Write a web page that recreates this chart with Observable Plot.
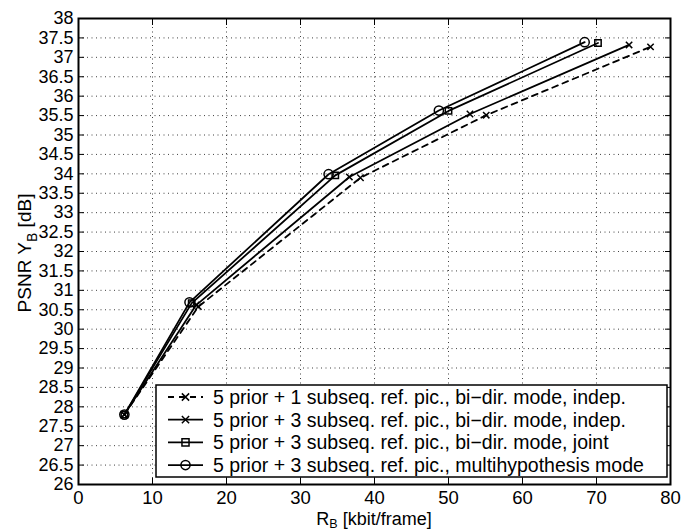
<!DOCTYPE html>
<html>
<head>
<meta charset="utf-8">
<script src="https://cdn.jsdelivr.net/npm/d3@7"></script>
<script src="https://cdn.jsdelivr.net/npm/@observablehq/plot@0.6"></script>
<style>
  html, body { margin: 0; padding: 0; background: #fff; }
  #chart { width: 683px; height: 531px; }
</style>
</head>
<body>
<div id="chart"></div>
<script>
// ---- Data ----
const seriesNames = [
  "5 prior + 1 subseq. ref. pic., bi\u2212dir. mode, indep.",
  "5 prior + 3 subseq. ref. pic., bi\u2212dir. mode, indep.",
  "5 prior + 3 subseq. ref. pic., bi\u2212dir. mode, joint",
  "5 prior + 3 subseq. ref. pic., multihypothesis mode"
];
const rate1 = [6.2, 16.2, 38.1, 55.1, 77.3];
const psnr1 = [27.80, 30.58, 33.90, 35.51, 37.27];
const rate2 = [6.2, 15.9, 36.6, 52.9, 74.4];
const psnr2 = [27.80, 30.62, 33.92, 35.54, 37.32];
const rate3 = [6.2, 15.3, 34.7, 50.0, 70.2];
const psnr3 = [27.80, 30.67, 33.96, 35.62, 37.37];
const rate4 = [6.2, 15.0, 33.8, 48.7, 68.4];
const psnr4 = [27.80, 30.69, 33.99, 35.63, 37.39];

const xTicks = [0, 10, 20, 30, 40, 50, 60, 70, 80];
const yTicks = [26, 26.5, 27, 27.5, 28, 28.5, 29, 29.5, 30, 30.5, 31, 31.5, 32, 32.5, 33, 33.5, 34, 34.5, 35, 35.5, 36, 36.5, 37, 37.5, 38];

// ---- Build tidy table ----
const rates = [rate1, rate2, rate3, rate4];
const psnrs = [psnr1, psnr2, psnr3, psnr4];
const symbols = ["times", "times", "square", "circle"];
const dashes = ["6,5", null, null, null];
const rows = [];
rates.forEach((rs, i) => rs.forEach((r, j) => rows.push({series: i, rate: r, psnr: psnrs[i][j]})));

const font = "'Liberation Sans', Arial, Helvetica, sans-serif";
const fmt = d => String(d);

const marks = [
  Plot.gridX(xTicks.slice(1, -1), {stroke: "#000", strokeOpacity: 0.75, strokeDasharray: "1,3.5", strokeWidth: 1}),
  Plot.gridY(yTicks.slice(1, -1), {stroke: "#000", strokeOpacity: 0.75, strokeDasharray: "1,3.5", strokeWidth: 1}),
  // inward ticks on all four sides
  Plot.axisX(xTicks, {anchor: "bottom", tickSize: 6, insetBottom: 6, fill: "none", stroke: "#000"}),
  Plot.axisX(xTicks, {anchor: "top", tickSize: 6, insetTop: 6, fill: "none", stroke: "#000"}),
  Plot.axisY(yTicks, {anchor: "left", tickSize: 6, insetLeft: 6, fill: "none", stroke: "#000"}),
  Plot.axisY(yTicks, {anchor: "right", tickSize: 6, insetRight: 6, fill: "none", stroke: "#000"}),
  // tick labels
  Plot.axisX(xTicks, {anchor: "bottom", tickSize: 0, tickPadding: 6, fill: "#000", label: null, fontSize: 18.5, tickFormat: fmt}),
  Plot.axisY(yTicks, {anchor: "left", tickSize: 0, tickPadding: 5, fill: "#000", label: null, fontSize: 18, tickFormat: fmt})
];
for (let i = 0; i < 4; i++) {
  const d = rows.filter(r => r.series === i);
  const r = symbols[i] === "circle" ? 4.6 : (symbols[i] === "square" ? 3.6 : 3.0);
  marks.push(Plot.line(d, {x: "rate", y: "psnr", stroke: "#000", strokeWidth: 1.8, strokeDasharray: dashes[i]}));
  marks.push(Plot.dot(d, {x: "rate", y: "psnr", symbol: () => symbols[i], r, stroke: "#000", strokeWidth: 1.5, fill: "none"}));
}
marks.push(Plot.frame({stroke: "#000", strokeWidth: 2}));

const plot = Plot.plot({
  width: 683,
  height: 531,
  marginLeft: 78,
  marginRight: 13,
  marginTop: 18,
  marginBottom: 47,
  style: {fontFamily: font, fontSize: "18px", background: "#fff", color: "#000"},
  x: {domain: [0, 80], label: null},
  y: {domain: [26, 38], label: null},
  symbol: {type: "identity"},
  marks
});
document.getElementById("chart").appendChild(plot);

// ---- Axis titles with subscripts ----
const svg = d3.select(plot);
const xl = svg.append("text")
  .attr("x", 374).attr("y", 525)
  .attr("text-anchor", "middle")
  .attr("font-family", font).attr("font-size", 18).attr("fill", "#000");
xl.append("tspan").text("R");
xl.append("tspan").attr("font-size", 12.5).attr("dy", 3).text("B");
xl.append("tspan").attr("dy", -3).text(" [kbit/frame]");

const yl = svg.append("text")
  .attr("transform", "translate(31,253) rotate(-90)")
  .attr("text-anchor", "middle")
  .attr("font-family", font).attr("font-size", 19).attr("fill", "#000");
yl.append("tspan").text("PSNR Y");
yl.append("tspan").attr("font-size", 14).attr("dy", 6).text("B");
yl.append("tspan").attr("dy", -6).text(" [dB]");

// ---- Legend (inside the axes, lower right) ----
const lg = svg.append("g").attr("class", "legend").attr("text-anchor", "start");
const lx0 = 156, lx1 = 667, ly0 = 385, ly1 = 477;
lg.append("rect").attr("x", lx0).attr("y", ly0).attr("width", lx1 - lx0).attr("height", ly1 - ly0)
  .attr("fill", "#fff").attr("stroke", "#000").attr("stroke-width", 1.5);
const symGen = {
  times: d3.symbol(d3.symbolTimes, 36),
  square: d3.symbol(d3.symbolSquare, 50),
  circle: d3.symbol(d3.symbolCircle, 66)
};
seriesNames.forEach((name, i) => {
  const cy = 397 + i * 22.7;
  lg.append("line").attr("x1", 168).attr("x2", 203).attr("y1", cy).attr("y2", cy)
    .attr("stroke", "#000").attr("stroke-width", 1.8)
    .attr("stroke-dasharray", dashes[i]);
  lg.append("path").attr("d", symGen[symbols[i]]()).attr("transform", `translate(185.5,${cy})`)
    .attr("fill", "none").attr("stroke", "#000").attr("stroke-width", 1.5);
  lg.append("text").attr("x", 213).attr("y", cy).attr("dy", "0.35em").attr("text-anchor", "start")
    .attr("font-family", font).attr("font-size", 19.5).attr("fill", "#000").text(name);
});
</script>
</body>
</html>
